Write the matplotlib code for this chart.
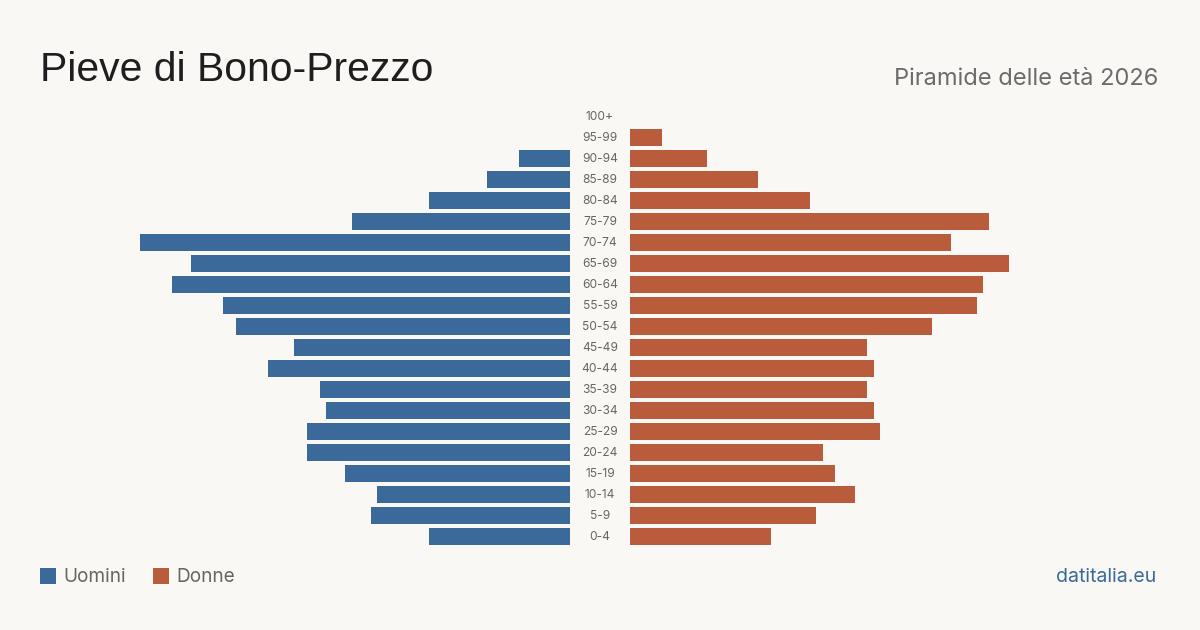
import matplotlib
matplotlib.use("Agg")
import matplotlib.pyplot as plt
from matplotlib.patches import Rectangle

age_groups = ["100+", "95-99", "90-94", "85-89", "80-84", "75-79", "70-74", "65-69",
              "60-64", "55-59", "50-54", "45-49", "40-44", "35-39", "30-34", "25-29",
              "20-24", "15-19", "10-14", "5-9", "0-4"]
men = [0, 0, 8, 13, 22, 34, 67, 59, 62, 54, 52, 43, 47, 39, 38, 41, 41, 35, 30, 31, 22]
women = [0, 5, 12, 20, 28, 56, 50, 59, 55, 54, 47, 37, 38, 37, 38, 39, 30, 32, 35, 29, 22]

title = "Pieve di Bono-Prezzo"
subtitle = "Piramide delle età 2026"
legend_labels = ["Uomini", "Donne"]
source = "datitalia.eu"

BG = "#f9f8f4"
C_MEN = "#3b6a9a"
C_WOMEN = "#b95c3c"

W, H = 1200, 630
fig = plt.figure(figsize=(W / 100, H / 100), dpi=100, facecolor=BG)

vmax = max(max(men), max(women))
n = len(age_groups)
pitch = 21
top_center = 116
y_top = top_center - pitch / 2
y_bot = y_top + n * pitch

def fx(px):
    return px / W

def fy(py):
    return 1 - py / H

ax_h = (y_bot - y_top) / H
axL = fig.add_axes([fx(140), fy(y_bot), fx(570 - 140), ax_h])
axR = fig.add_axes([fx(630), fy(y_bot), fx(1060 - 630), ax_h])

ypos = list(range(n))
for ax, vals, col in ((axL, men, C_MEN), (axR, women, C_WOMEN)):
    ax.barh(ypos, vals, height=17 / 21, color=col, linewidth=0)
    ax.set_ylim(n - 0.5, -0.5)
    ax.set_facecolor("none")
    ax.axis("off")
axL.set_xlim(vmax, 0)
axR.set_xlim(0, vmax)

for i, lab in enumerate(age_groups):
    fig.text(fx(600), fy(top_center + 1 + i * pitch), lab, ha="center", va="center",
             fontsize=8.6, color="#666666", family="Inter")

fig.text(fx(40), fy(81), title, ha="left", va="baseline", fontsize=29.4,
         color="#1e1e1e", family="Liberation Sans")
fig.text(fx(1158), fy(85), subtitle, ha="right", va="baseline", fontsize=17,
         color="#6b6b6b", family="Inter")

# legend
for x0, col, lab in ((40, C_MEN, legend_labels[0]), (153, C_WOMEN, legend_labels[1])):
    fig.patches.append(Rectangle((fx(x0), fy(584)), fx(16), 16 / H, transform=fig.transFigure,
                                 facecolor=col, edgecolor="none"))
    fig.text(fx(x0 + 23), fy(577), lab, ha="left", va="center", fontsize=13.7,
             color="#666666", family="Inter")

fig.text(fx(1156), fy(577), source, ha="right", va="center", fontsize=14,
         color=C_MEN, family="Inter")

fig.savefig("out.png", dpi=100, facecolor=BG)
